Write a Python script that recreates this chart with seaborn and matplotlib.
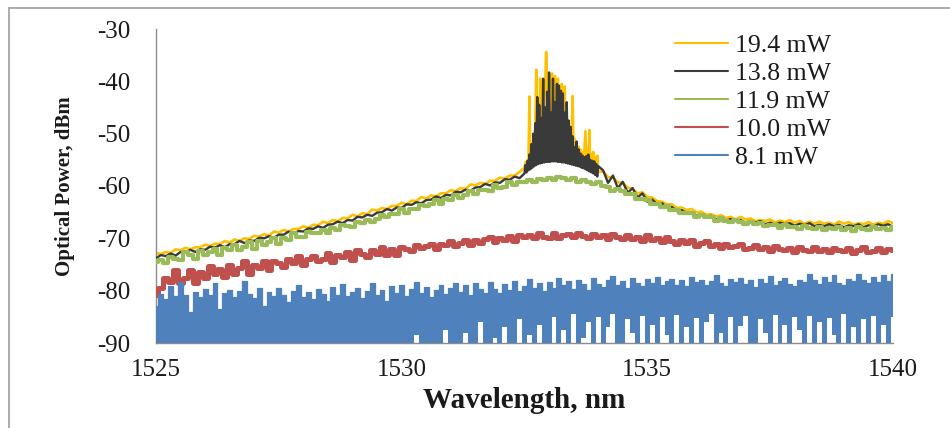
import numpy as np
import pandas as pd
import matplotlib
matplotlib.use("Agg")
import matplotlib.pyplot as plt
import seaborn as sns
from matplotlib.lines import Line2D

# ---------------- data ----------------
wavelength = np.round(np.linspace(1525.0, 1540.0, 151), 2)        # 0.1 nm grid
peak_wavelength = np.round(np.linspace(1532.5, 1534.0, 76), 2)    # 0.02 nm grid around the lasing peak

labels = ["19.4 mW", "13.8 mW", "11.9 mW", "10.0 mW", "8.1 mW"]
colors = ["#FFC000", "#3A3A3A", "#9BBB59", "#C0504D", "#4F81BD"]

p194 = [-72.8, -73.0, -72.6, -72.8, -72.1, -72.3, -71.8, -72.1, -71.7, -71.7,
        -71.2, -71.5, -71.0, -71.1, -70.5, -70.8, -70.2, -70.5, -70.0, -70.1,
        -69.5, -69.7, -69.2, -69.5, -68.7, -68.9, -68.4, -68.7, -68.2, -68.2,
        -67.7, -68.0, -67.4, -67.5, -66.8, -67.1, -66.5, -66.7, -66.1, -66.2,
        -65.5, -65.8, -65.2, -65.4, -64.5, -64.7, -64.2, -64.4, -63.8, -63.8,
        -63.2, -63.5, -62.8, -62.9, -62.1, -62.4, -61.8, -62.0, -61.4, -61.4,
        -60.8, -61.0, -60.4, -60.6, -59.7, -59.9, -59.4, -59.6, -59.0, -59.0,
        -58.4, -58.6, -58.0, -58.0, -57.3, -57.3, -57.0, -56.7, -56.4, -56.1,
        -55.8, -55.7, -55.6, -55.6, -55.5, -55.5, -55.8, -56.1, -56.4, -56.7,
        -57.0, -57.2, -58.3, -58.4, -59.3, -59.4, -60.3, -60.5, -61.4, -61.2,
        -62.1, -62.2, -62.9, -63.0, -63.5, -63.5, -64.2, -64.1, -64.6, -64.4,
        -65.0, -64.9, -65.5, -65.4, -65.8, -65.6, -66.1, -65.9, -66.4, -65.9,
        -66.4, -66.2, -66.7, -66.5, -66.7, -66.4, -67.0, -66.6, -66.9, -66.5,
        -67.0, -66.7, -67.2, -66.8, -67.2, -66.8, -67.2, -67.0, -67.4, -66.8,
        -67.2, -66.9, -67.4, -67.1, -67.3, -66.9, -67.4, -67.0, -67.2, -66.7, -67.1]
p194_peak = [-56.5, -55.5, -56.8, -55.0, -56.4, -42.9, -56.0, -53.0, -56.0, -51.0,
             -55.8, -48.0, -37.8, -55.5, -46.0, -55.5, -39.5, -55.2, -45.0, -55.2,
             -44.0, -41.0, -34.4, -40.0, -55.0, -44.0, -55.0, -42.0, -38.5, -55.0,
             -43.0, -39.0, -55.0, -44.0, -39.5, -55.0, -45.0, -55.0, -40.5, -55.0,
             -46.0, -41.0, -55.2, -47.0, -48.7, -55.3, -49.0, -55.4, -50.0, -42.8,
             -55.5, -51.0, -55.6, -52.0, -55.8, -52.5, -56.0, -53.0, -56.0, -53.5,
             -56.2, -53.0, -49.5, -56.3, -53.5, -56.4, -49.3, -56.5, -54.0, -56.7,
             -53.5, -56.8, -54.5, -57.0, -54.2, -57.3]

p138 = [-73.8, -73.2, -73.4, -72.9, -73.3, -72.6, -72.7, -72.2, -72.6, -72.1,
        -72.2, -71.6, -71.8, -71.3, -71.7, -71.1, -71.1, -70.5, -70.9, -70.4,
        -70.5, -69.9, -70.0, -69.6, -69.9, -69.3, -69.3, -68.7, -69.1, -68.6,
        -68.7, -68.1, -68.2, -67.7, -68.0, -67.4, -67.3, -66.8, -67.1, -66.5,
        -66.6, -65.9, -66.0, -65.5, -65.7, -65.1, -65.0, -64.4, -64.7, -64.1,
        -64.2, -63.5, -63.6, -63.1, -63.3, -62.7, -62.6, -62.0, -62.3, -61.7,
        -61.8, -61.1, -61.2, -60.7, -60.9, -60.3, -60.2, -59.6, -59.9, -59.3,
        -59.4, -58.7, -58.8, -58.2, -58.5, -57.9, -57.6, -57.3, -57.0, -56.7,
        -56.4, -56.3, -56.2, -56.2, -56.1, -56.1, -56.4, -56.7, -57.0, -57.3,
        -57.6, -57.0, -59.4, -58.0, -60.4, -59.2, -61.3, -60.4, -62.2, -61.4,
        -63.0, -62.6, -63.5, -63.3, -64.1, -64.0, -64.8, -64.6, -65.2, -65.0,
        -65.7, -65.5, -65.8, -65.7, -66.4, -66.2, -66.6, -66.3, -66.7, -66.5,
        -67.1, -66.7, -67.0, -66.7, -67.3, -67.0, -67.4, -67.0, -67.3, -67.1,
        -67.6, -67.2, -67.5, -67.1, -67.7, -67.4, -67.7, -67.3, -67.7, -67.4,
        -67.9, -67.5, -67.7, -67.3, -67.9, -67.5, -67.8, -67.3, -67.6, -67.3, -67.8]
p138_peak = [-57.6, -56.0, -57.4, -55.2, -57.0, -54.0, -56.8, -52.0, -56.5, -50.0,
             -56.2, -48.0, -56.0, -43.0, -55.8, -44.5, -55.7, -47.0, -55.6, -39.5,
             -55.5, -45.0, -55.4, -42.0, -55.4, -38.3, -55.4, -46.0, -55.3, -39.5,
             -55.3, -44.0, -55.3, -40.5, -55.4, -40.8, -55.4, -41.8, -55.5, -42.3,
             -55.5, -46.0, -55.6, -44.0, -55.7, -47.5, -55.8, -48.7, -55.9, -50.5,
             -56.0, -52.6, -56.1, -51.5, -56.2, -53.0, -56.3, -53.8, -56.5, -54.2,
             -56.6, -54.5, -56.8, -54.3, -57.0, -54.0, -57.2, -55.0, -57.4, -55.2,
             -57.6, -55.3, -57.9, -55.8, -58.2, -56.2]

p119 = [-74.5, -74.1, -74.7, -73.5, -74.0, -74.1, -72.7, -73.2, -73.9, -72.5,
        -73.2, -72.7, -72.1, -73.1, -71.9, -72.3, -71.3, -72.2, -71.6, -70.7,
        -72.0, -70.6, -71.2, -70.7, -69.9, -71.0, -69.9, -70.3, -69.0, -69.7,
        -69.8, -68.8, -68.9, -69.0, -68.4, -69.0, -68.1, -68.4, -67.5, -67.7,
        -67.9, -66.9, -67.1, -66.5, -66.9, -66.3, -65.5, -66.0, -65.3, -65.4,
        -64.4, -65.1, -64.3, -64.3, -63.6, -63.9, -63.4, -62.7, -63.4, -62.4,
        -62.6, -61.8, -62.3, -61.8, -61.0, -61.5, -60.7, -60.7, -61.0, -59.8,
        -60.4, -60.1, -59.3, -59.9, -59.2, -59.2, -58.9, -59.3, -58.6, -58.9,
        -58.5, -58.9, -58.3, -58.5, -58.9, -58.5, -59.2, -58.8, -59.2, -59.6,
        -59.3, -60.0, -60.1, -60.9, -60.6, -61.0, -61.6, -61.5, -62.4, -62.5,
        -62.6, -63.5, -63.4, -64.1, -63.8, -64.6, -64.5, -65.2, -65.1, -65.1,
        -66.0, -65.6, -66.0, -65.9, -66.6, -66.1, -66.6, -66.8, -66.5, -66.8,
        -67.3, -66.8, -67.3, -67.1, -67.6, -67.5, -67.4, -68.0, -67.5, -67.9,
        -67.8, -68.3, -67.7, -68.0, -68.3, -67.9, -68.4, -68.0, -68.2, -67.9,
        -68.4, -68.1, -68.6, -67.9, -68.2, -68.4, -67.8, -68.3, -68.1, -68.4, -67.9]

p100 = [-80.8, -79.4, -77.6, -78.4, -76.1, -78.6, -77.5, -76.0, -78.6, -76.5,
        -77.6, -75.3, -76.8, -75.8, -77.4, -75.1, -76.9, -75.7, -74.3, -76.9,
        -75.1, -75.6, -74.4, -76.0, -74.4, -74.8, -75.4, -74.0, -74.8, -73.3,
        -75.0, -73.9, -73.3, -74.4, -73.9, -72.8, -74.5, -73.1, -73.6, -72.7,
        -74.2, -72.3, -72.9, -73.5, -72.3, -73.0, -71.6, -73.2, -72.0, -73.1,
        -71.7, -72.1, -72.4, -71.3, -71.9, -71.5, -71.1, -72.0, -71.1, -71.3,
        -70.6, -71.4, -70.9, -70.3, -71.2, -70.3, -70.8, -70.2, -69.7, -70.7,
        -70.0, -70.3, -69.5, -70.5, -69.4, -69.8, -69.4, -70.0, -69.0, -69.7,
        -69.9, -68.9, -70.0, -69.4, -69.1, -69.7, -68.9, -69.6, -69.9, -69.1,
        -69.7, -69.3, -70.2, -69.1, -69.7, -70.1, -69.4, -70.1, -69.8, -70.5,
        -69.4, -70.4, -70.0, -70.7, -69.8, -70.5, -71.0, -70.3, -70.8, -70.4,
        -71.4, -70.9, -70.5, -71.5, -71.0, -71.9, -71.0, -71.6, -71.4, -71.1,
        -72.1, -71.9, -71.2, -72.1, -71.7, -72.4, -71.5, -72.0, -72.3, -71.8,
        -72.7, -71.6, -72.2, -72.5, -71.7, -72.4, -72.0, -72.7, -71.9, -72.2,
        -72.5, -71.9, -72.8, -72.2, -71.7, -72.6, -72.4, -71.9, -72.7, -72.0, -72.2]

p81_top = [-83.0, -80.6, -81.5, -79.2, -81.0, -78.3, -80.8, -84.0, -80.2, -81.2,
           -79.6, -80.9, -78.6, -83.5, -80.4, -79.8, -81.3, -80.0, -78.2, -80.7,
           -81.4, -79.5, -83.0, -80.3, -81.0, -79.4, -80.8, -82.2, -80.1, -79.0,
           -81.2, -80.3, -81.6, -79.7, -80.6, -82.0, -79.3, -80.9, -78.7, -81.1,
           -80.2, -79.5, -81.4, -80.0, -78.6, -80.8, -79.8, -81.9, -79.2, -80.4,
           -79.0, -81.0, -79.6, -78.4, -80.5, -79.3, -81.2, -79.8, -78.9, -80.6,
           -79.4, -78.5, -80.3, -79.0, -80.9, -78.6, -79.7, -80.5, -78.3, -79.6,
           -80.4, -78.8, -79.9, -78.1, -80.0, -79.2, -77.8, -79.5, -78.6, -80.1,
           -78.3, -79.4, -77.6, -79.0, -78.2, -79.6, -77.9, -78.8, -79.8, -77.5,
           -78.7, -79.3, -78.0, -77.2, -78.9, -78.1, -79.4, -77.6, -78.5, -79.1,
           -77.8, -78.6, -77.3, -79.0, -78.2, -77.7, -78.9, -78.0, -79.2, -77.4,
           -78.4, -77.9, -79.0, -78.1, -77.0, -78.6, -79.1, -77.8, -78.3, -77.5,
           -78.8, -78.0, -79.3, -77.7, -78.5, -77.2, -78.9, -78.1, -77.6, -78.7,
           -79.2, -77.9, -78.4, -76.9, -78.0, -78.8, -77.4, -78.3, -77.1, -78.6,
           -79.0, -77.7, -78.2, -76.8, -77.9, -78.5, -77.3, -78.4, -77.0, -78.1, -76.9]
p81_bottom = [-90.0, -90.0, -90.0, -90.0, -90.0, -90.0, -90.0, -90.0, -90.0, -90.0,
              -90.0, -90.0, -90.0, -90.0, -90.0, -90.0, -90.0, -90.0, -90.0, -90.0,
              -90.0, -90.0, -90.0, -90.0, -90.0, -90.0, -90.0, -90.0, -90.0, -90.0,
              -90.0, -90.0, -90.0, -90.0, -90.0, -90.0, -90.0, -90.0, -90.0, -90.0,
              -90.0, -90.0, -90.0, -90.0, -90.0, -90.0, -90.0, -90.0, -90.0, -90.0,
              -90.0, -90.0, -90.0, -88.5, -90.0, -90.0, -90.0, -90.0, -90.0, -87.5,
              -90.0, -90.0, -90.0, -88.0, -90.0, -90.0, -86.0, -90.0, -90.0, -89.0,
              -90.0, -87.0, -90.0, -90.0, -85.5, -90.0, -88.5, -90.0, -86.5, -90.0,
              -90.0, -85.0, -90.0, -87.5, -90.0, -84.5, -90.0, -89.0, -86.0, -90.0,
              -85.0, -90.0, -87.0, -84.5, -90.0, -90.0, -85.5, -88.0, -90.0, -84.8,
              -90.0, -86.5, -90.0, -85.0, -88.5, -90.0, -84.6, -90.0, -87.0, -90.0,
              -85.2, -90.0, -86.0, -84.5, -90.0, -88.0, -90.0, -85.0, -90.0, -86.8,
              -84.8, -90.0, -90.0, -85.5, -88.0, -90.0, -84.6, -90.0, -86.5, -90.0,
              -85.0, -87.5, -90.0, -84.8, -90.0, -86.0, -90.0, -85.2, -88.5, -90.0,
              -84.5, -90.0, -87.0, -90.0, -85.5, -90.0, -84.8, -90.0, -86.5, -90.0, -85.0]

x_ticks = [1525, 1530, 1535, 1540]
y_ticks = [-90, -80, -70, -60, -50, -40, -30]


def with_peak(coarse, fine):
    coarse = np.asarray(coarse)
    keep = (wavelength < 1532.5) | (wavelength > 1534.0)
    wl = np.concatenate([wavelength[keep], peak_wavelength])
    pw = np.concatenate([coarse[keep], np.asarray(fine)])
    order = np.argsort(wl, kind="stable")
    return pd.DataFrame({"wl": wl[order], "p": pw[order]})


frames = [
    with_peak(p194, p194_peak),
    with_peak(p138, p138_peak),
    pd.DataFrame({"wl": wavelength, "p": p119}),
    pd.DataFrame({"wl": wavelength, "p": p100}),
]
widths = [1.9, 1.7, 3.0, 3.6]
styles = ["default", "default", "steps-mid", "steps-mid"]

# ---------------- figure ----------------
sns.set_style("white")
plt.rcParams["font.family"] = ["Liberation Serif", "DejaVu Serif"]

fig = plt.figure(figsize=(9.5, 4.28), dpi=100)
ax = fig.add_axes([156 / 950, 1 - 343 / 428, (893 - 156) / 950, (343 - 29) / 428])

for i, (df, lw, ds) in enumerate(zip(frames, widths, styles)):
    sns.lineplot(data=df, x="wl", y="p", color=colors[i], linewidth=lw,
                 drawstyle=ds, estimator=None, sort=True, ax=ax, zorder=2 + i,
                 legend=False)

ax.fill_between(wavelength, p81_bottom, p81_top, step="mid",
                color=colors[4], linewidth=0, zorder=6)
sns.lineplot(x=wavelength, y=p81_top, color=colors[4], linewidth=0.9,
             drawstyle="steps-mid", estimator=None, ax=ax, zorder=6, legend=False)

ax.set_xlim(1525, 1540)
ax.set_ylim(-90, -30)
ax.set_xticks(x_ticks)
ax.set_yticks(y_ticks)
ax.set_xticklabels([str(t) for t in x_ticks])
ax.set_yticklabels([str(t) for t in y_ticks])

sns.despine(ax=ax)
for s in ["left", "bottom"]:
    ax.spines[s].set_color("#8C8C8C")
    ax.spines[s].set_linewidth(1.0)
ax.tick_params(axis="y", direction="out", length=6.5, width=1.0, color="#8C8C8C",
               pad=12, labelsize=18, labelcolor="#1A1A1A")
ax.tick_params(axis="x", direction="out", length=4.5, width=1.0, color="#8C8C8C",
               pad=7, labelsize=18, labelcolor="#1A1A1A")

ax.set_xlabel("Wavelength, nm", fontsize=21, fontweight="bold", color="#1A1A1A")
ax.set_ylabel("Optical Power, dBm", fontsize=15, fontweight="bold", color="#1A1A1A")
ax.xaxis.set_label_coords(0.5, -0.14)
ax.yaxis.set_label_coords(-0.11, 0.5)

handles = [Line2D([0], [0], color=c, lw=1.5) for c in colors]
ax.legend(handles, labels, loc="upper left", bbox_to_anchor=(675 / 950, 1 - 34.5 / 428),
          bbox_transform=fig.transFigure, frameon=False, fontsize=18.5,
          handlelength=2.05, handletextpad=0.3, labelspacing=0.19, borderpad=0,
          borderaxespad=0)
for t in ax.get_legend().get_texts():
    t.set_color("#1A1A1A")

# outer picture frame (left and top edges visible)
fig.add_artist(Line2D([9 / 950, 9 / 950], [1 - 8 / 428, 0], transform=fig.transFigure,
                      color="#A6A6A6", lw=1.3))
fig.add_artist(Line2D([9 / 950, 1], [1 - 8 / 428, 1 - 8 / 428], transform=fig.transFigure,
                      color="#A6A6A6", lw=1.3))

fig.savefig("out.png", dpi=100, facecolor="white")
